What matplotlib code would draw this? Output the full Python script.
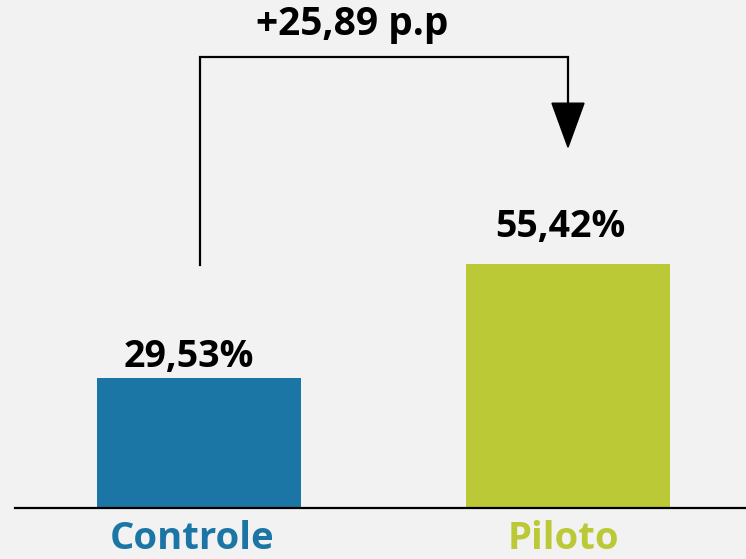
import matplotlib
matplotlib.use("Agg")
import matplotlib.pyplot as plt
from matplotlib.patches import Polygon
from matplotlib.transforms import blended_transform_factory

categories = ["Controle", "Piloto"]
values = [29.53, 55.42]
value_labels = ["29,53%", "55,42%"]
diff_label = "+25,89 p.p"

colors = ["#1b76a5", "#bcc936"]
bg = "#f2f2f2"
FONT = "Open Sans"

fig = plt.figure(figsize=(7.46, 5.59), dpi=100, facecolor=bg)
ax = fig.add_axes([15/746, 51/559, 731/746, 508/559], facecolor=bg)

x = [0, 1]
ax.bar(x, values, width=204/369, color=colors, zorder=2)
ax.set_xlim(-184/369, 547/369)
ax.set_ylim(0, 508/4.4)

for s in ["top", "right", "left"]:
    ax.spines[s].set_visible(False)
ax.spines["bottom"].set_linewidth(1.6)
ax.spines["bottom"].set_color("black")
ax.set_yticks([])
ax.set_xticks([])

# category labels under the bars (x from data, y from figure)
trans = blended_transform_factory(ax.transData, fig.transFigure)
label_dx = [-0.02, -0.013]
for xi, name, c, d in zip(x, categories, colors, label_dx):
    ax.text(xi + d, 10/559, name, transform=trans, ha="center", va="baseline",
            fontsize=27.5, fontweight="bold", family=FONT, color=c, clip_on=False)

offsets = [2.5, 6.2]
dx = [-0.027, -0.022]
for xi, v, t, o, d in zip(x, values, value_labels, offsets, dx):
    ax.text(xi + d, v + o, t, ha="center", va="baseline", fontsize=27,
            fontweight="bold", family=FONT, color="black")

# bracket
top_y = 102.5
x0, x1 = 0.003, 1.0
ax.plot([x0, x0, x1, x1], [values[1] - 0.2, top_y, top_y, 92.0],
        color="black", lw=1.6, solid_joinstyle="miter", zorder=3)
hw = 16/369
ax.add_patch(Polygon([[x1 - hw, 92.0], [x1 + hw, 92.0], [x1, 82.0]],
                     closed=True, color="black", zorder=3))
ax.text(0.415, (508 - 35) / 4.4, diff_label, ha="center",
        va="baseline", fontsize=28, fontweight="bold", family=FONT)

fig.savefig("out.png", dpi=100, facecolor=bg)
